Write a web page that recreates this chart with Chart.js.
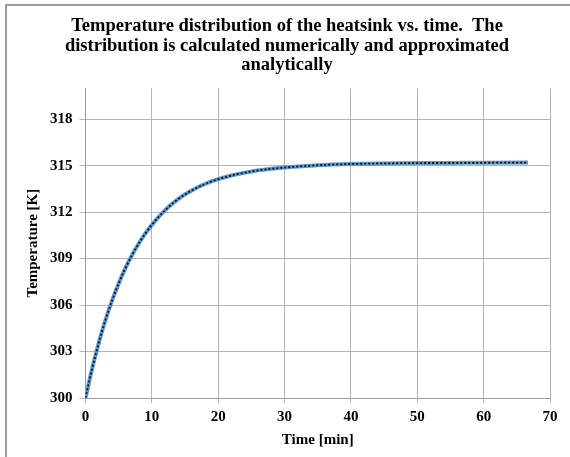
<!DOCTYPE html>
<html>
<head>
<meta charset="utf-8">
<script src="https://cdn.jsdelivr.net/npm/chart.js@4/dist/chart.umd.min.js"></script>
<style>
html,body{margin:0;padding:0;background:#fff;}
#wrap{position:relative;width:570px;height:457px;}
#frame{position:absolute;left:5px;top:4px;width:570px;height:460px;border-left:2px solid #9a9a9a;border-top:2px solid #9a9a9a;box-sizing:border-box;pointer-events:none;}
canvas{position:absolute;left:0;top:0;}
</style>
</head>
<body>
<div id="wrap">
<canvas id="c" width="570" height="457"></canvas>
<div id="frame"></div>
</div>
<script>
const titleLines = [
  "Temperature distribution of the heatsink vs. time.  The",
  "distribution is calculated numerically and approximated",
  "analytically"
];
const xTitle = "Time [min]";
const yTitle = "Temperature [K]";
const timeMin = [0,1,2,3,4,5,6,7,8,9,10,12,14,16,18,20,22,25,28,30,35,40,45,50,55,60,66.7];
const numerical = [300.0,301.9,303.56,305.02,306.29,307.4,308.37,309.22,309.96,310.61,311.18,312.13,312.86,313.4,313.82,314.13,314.37,314.63,314.8,314.88,315.03,315.11,315.15,315.17,315.18,315.19,315.2];
const analytical = [300.0,301.9,303.56,305.02,306.29,307.4,308.37,309.22,309.96,310.61,311.18,312.13,312.86,313.4,313.82,314.13,314.37,314.63,314.8,314.88,315.03,315.11,315.15,315.17,315.18,315.19,315.2];
const xMin = 0, xMax = 70, xStep = 10;
const yMin = 300, yMax = 320, yStep = 3, yLastTick = 318;

const fam = "'Liberation Serif', 'Times New Roman', serif";
const font = {family: fam, weight: 'bold', size: 15};
const toXY = arr => arr.map((v,i)=>({x: timeMin[i], y: v}));

new Chart(document.getElementById('c'), {
  type: 'line',
  data: {
    datasets: [
      {label: 'Numerical', data: toXY(numerical), order: 2, borderColor: '#5b9bd5', borderWidth: 4, pointRadius: 0, cubicInterpolationMode: 'monotone'},
      {label: 'Analytical', data: toXY(analytical), order: 1, borderColor: '#111', borderWidth: 1.8, borderDash: [2,2], pointRadius: 0, cubicInterpolationMode: 'monotone'}
    ]
  },
  options: {
    responsive: false,
    animation: false,
    layout: {padding: {left: 24, right: 20, top: 9, bottom: 8}},
    plugins: {
      legend: {display: false},
      tooltip: {enabled: false},
      title: {display: true, text: titleLines, color: '#000', font: {family: fam, weight: 'bold', size: 18.5, lineHeight: 1.05}, padding: {top: 8, bottom: 13}}
    },
    scales: {
      x: {
        type: 'linear', min: xMin, max: xMax,
        ticks: {stepSize: xStep, color: '#000', font: font, padding: 5, maxRotation: 0},
        grid: {color: '#b4b4b4', tickLength: 5, lineWidth: 1},
        border: {color: '#9a9a9a'},
        title: {display: true, text: xTitle, color: '#000', font: font, padding: {top: 0, bottom: 0}}
      },
      y: {
        type: 'linear', min: yMin, max: yMax,
        afterBuildTicks: axis => { axis.ticks = axis.ticks.filter(t => t.value <= yLastTick); },
        ticks: {stepSize: yStep, color: '#000', font: font, padding: 7},
        grid: {color: '#b4b4b4', tickLength: 6, lineWidth: 1},
        border: {color: '#9a9a9a'},
        title: {display: true, text: yTitle, color: '#000', font: font, padding: {top: 0, bottom: 1}}
      }
    }
  }
});
</script>
</body>
</html>
